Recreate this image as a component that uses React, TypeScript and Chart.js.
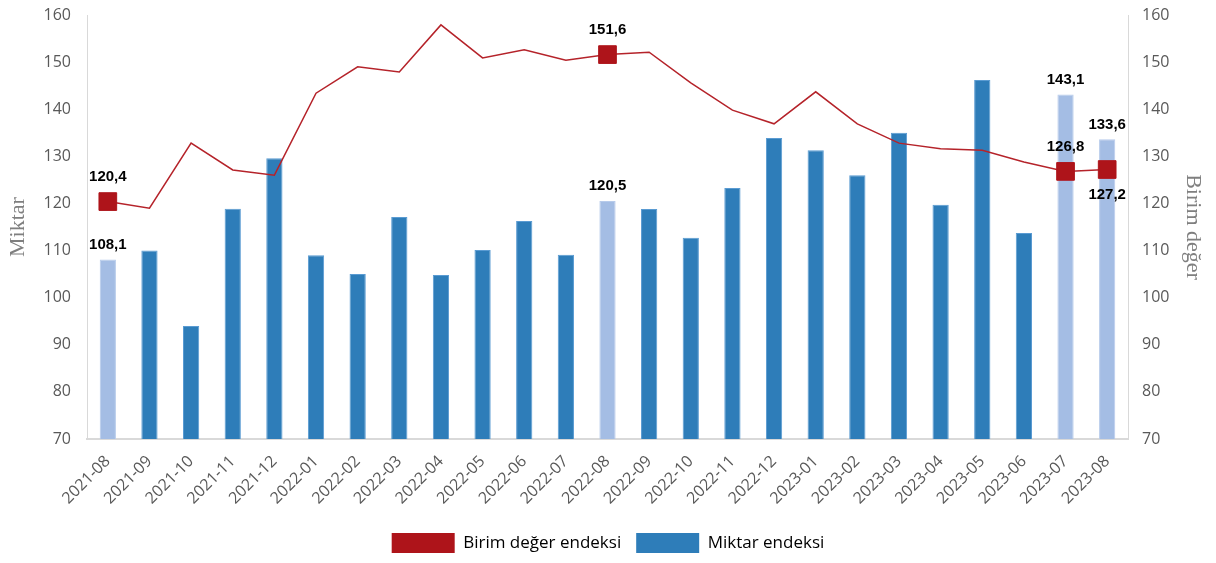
import { useEffect, useRef } from 'react';
import { Chart, registerables } from 'chart.js';

Chart.register(...registerables);

const categories = [
  '2021-08', '2021-09', '2021-10', '2021-11', '2021-12',
  '2022-01', '2022-02', '2022-03', '2022-04', '2022-05', '2022-06', '2022-07',
  '2022-08', '2022-09', '2022-10', '2022-11', '2022-12',
  '2023-01', '2023-02', '2023-03', '2023-04', '2023-05', '2023-06', '2023-07', '2023-08',
];

const miktarEndeksi = [
  108.1, 110.0, 94.0, 118.9, 129.6,
  109.0, 105.0, 117.1, 104.8, 110.1, 116.3, 109.1,
  120.5, 118.8, 112.7, 123.3, 133.9,
  131.3, 126.0, 135.0, 119.7, 146.2, 113.7, 143.1, 133.6,
];

const birimDegerEndeksi = [
  120.4, 119.0, 132.8, 127.1, 126.0,
  143.4, 149.0, 147.9, 157.9, 150.9, 152.6, 150.4,
  151.6, 152.1, 145.6, 139.8, 136.9,
  143.7, 136.9, 132.8, 131.6, 131.3, 128.8, 126.8, 127.2,
];

const highlightIdx = [0, 12, 23, 24];
const lineLabelBelowIdx = [24];

const yMin = 70;
const yMax = 160;
const yStep = 10;

const RED_LINE = '#B5232A';
const RED_MARK = '#AE141A';
const BLUE = '#2E7DB9';
const BLUE_LIGHT = '#A4BDE4';

const fmt = (v: number) => v.toFixed(1).replace('.', ',');

const labelPlugin = {
  id: 'valueLabels',
  afterDatasetsDraw(chart: any) {
    const ctx = chart.ctx;
    const lineMeta = chart.getDatasetMeta(0);
    const barMeta = chart.getDatasetMeta(1);
    ctx.save();
    ctx.font = 'bold 15px "Liberation Sans", Arial, sans-serif';
    ctx.fillStyle = '#000000';
    ctx.textAlign = 'center';
    ctx.textBaseline = 'middle';
    highlightIdx.forEach((i) => {
      const b = barMeta.data[i];
      ctx.fillText(fmt(miktarEndeksi[i]), b.x, b.y - 15);
      const p = lineMeta.data[i];
      const below = lineLabelBelowIdx.includes(i);
      ctx.fillText(fmt(birimDegerEndeksi[i]), p.x, below ? p.y + 25 : p.y - 25);
    });
    ctx.restore();
  },
};

export default function App() {
  const canvasRef = useRef<HTMLCanvasElement | null>(null);

  useEffect(() => {
    document.body.style.margin = '0';
    const canvas = canvasRef.current;
    if (!canvas) return;
    const tickFont = { family: '"Open Sans", "Noto Sans", sans-serif', size: 16 };
    const titleFont = { family: '"Liberation Serif", "DejaVu Serif", serif', size: 22 };
    const fitVertical = (w: number) => (s: any) => {
      s.width = w;
      s.paddingTop = 0;
      s.paddingBottom = 0;
    };
    const chart = new Chart(canvas, {
      type: 'bar',
      data: {
        labels: categories,
        datasets: [
          {
            type: 'line',
            label: 'Birim değer endeksi',
            data: birimDegerEndeksi,
            yAxisID: 'y1',
            borderColor: RED_LINE,
            backgroundColor: RED_MARK,
            borderWidth: 1.5,
            tension: 0,
            pointStyle: 'rect',
            pointRadius: birimDegerEndeksi.map((_, i) => (highlightIdx.includes(i) ? 12.5 : 0)),
            pointBackgroundColor: RED_MARK,
            pointBorderColor: RED_MARK,
            pointBorderWidth: 1,
            order: 0,
          } as any,
          {
            type: 'bar',
            label: 'Miktar endeksi',
            data: miktarEndeksi,
            yAxisID: 'y',
            backgroundColor: miktarEndeksi.map((_, i) => (highlightIdx.includes(i) ? BLUE_LIGHT : BLUE)),
            borderColor: miktarEndeksi.map((_, i) => (highlightIdx.includes(i) ? '#B7CBEB' : '#5A9BD2')),
            borderWidth: 1,
            barPercentage: 0.39,
            categoryPercentage: 1,
            order: 1,
          },
        ],
      },
      options: {
        responsive: false,
        animation: false,
        layout: { padding: { top: 15, bottom: 0, left: 0, right: 0 } },
        plugins: {
          tooltip: { enabled: false },
          legend: {
            position: 'bottom',
            labels: {
              boxWidth: 63,
              boxHeight: 20,
              padding: 15,
              color: '#404040',
              font: { family: '"Open Sans", "Noto Sans", sans-serif', size: 17 },
              generateLabels: () => [
                { text: 'Birim değer endeksi', fillStyle: RED_MARK, strokeStyle: RED_MARK, lineWidth: 0, hidden: false, datasetIndex: 0 },
                { text: 'Miktar endeksi', fillStyle: BLUE, strokeStyle: BLUE, lineWidth: 0, hidden: false, datasetIndex: 1 },
              ],
            },
          },
        },
        scales: {
          x: {
            offset: true,
            grid: { display: false },
            border: { display: true, color: '#D9D9D9', width: 2 },
            ticks: {
              autoSkip: false,
              maxRotation: 45,
              minRotation: 45,
              padding: 5,
              color: '#595959',
              font: tickFont,
            },
            afterFit: (s: any) => {
              s.height = 79;
            },
          },
          y: {
            position: 'left',
            min: yMin,
            max: yMax,
            grid: { display: false },
            border: { display: true, color: '#D9D9D9', width: 1 },
            ticks: { stepSize: yStep, padding: 8, color: '#595959', font: tickFont },
            title: {
              display: true,
              text: 'Miktar',
              color: '#7F7F7F',
              font: titleFont,
              padding: { top: 5, bottom: 0 },
            },
            afterFit: fitVertical(87),
          },
          y1: {
            position: 'right',
            min: yMin,
            max: yMax,
            grid: { display: false },
            border: { display: true, color: '#D9D9D9', width: 1 },
            ticks: { stepSize: yStep, padding: 6, color: '#595959', font: tickFont },
            title: {
              display: true,
              text: 'Birim değer',
              color: '#7F7F7F',
              font: titleFont,
              padding: { top: 10, bottom: 0 },
            },
            afterFit: fitVertical(88),
          },
        },
      },
      plugins: [labelPlugin],
    });
    return () => chart.destroy();
  }, []);

  return (
    <div style={{ width: 1216, height: 563 }}>
      <canvas ref={canvasRef} width={1216} height={563} />
    </div>
  );
}
